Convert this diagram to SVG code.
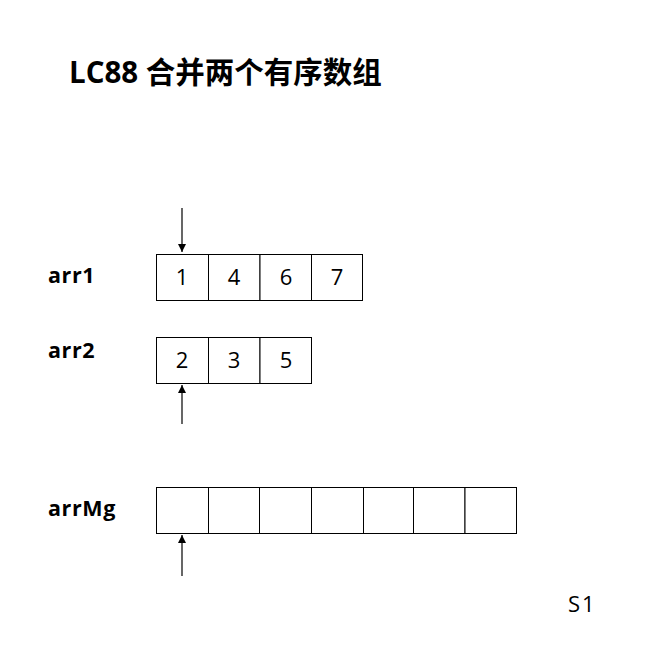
<svg xmlns="http://www.w3.org/2000/svg" width="664" height="651" viewBox="0 0 664 651">
<style>
.cell{fill:#fff;stroke:#000;stroke-width:1}
.lbl{font-family:"Open Sans","Noto Sans",sans-serif;font-weight:bold;font-size:21.5px;letter-spacing:0.6px;fill:#000}
.num{font-family:"Open Sans","Noto Sans",sans-serif;font-size:22px;fill:#000;text-anchor:middle}
.title{font-family:"Open Sans","Noto Sans CJK SC",sans-serif;font-weight:bold;font-size:29.5px;fill:#000}
.arr{stroke:#000;stroke-width:1.2;fill:none;marker-end:url(#ah)}
</style>
<defs>
<marker id="ah" viewBox="0 0 10 10" refX="10" refY="5" markerWidth="8" markerHeight="8" markerUnits="userSpaceOnUse" orient="auto">
<path d="M0,0 L10,5 L0,10 z" fill="#000"/>
</marker>
</defs>
<rect width="664" height="651" fill="#fff"/>
<text class="title" x="69" y="83">LC88 合并两个有序数组</text>
<g id="arr1">
<text class="lbl" x="48" y="283">arr1</text>
<rect class="cell" x="156.5" y="254.5" width="52" height="46"/>
<rect class="cell" x="208.5" y="254.5" width="51.5" height="46"/>
<rect class="cell" x="260" y="254.5" width="51.5" height="46"/>
<rect class="cell" x="311.5" y="254.5" width="51" height="46"/>
<text class="num" x="182" y="285">1</text>
<text class="num" x="234" y="285">4</text>
<text class="num" x="286" y="285">6</text>
<text class="num" x="337" y="285">7</text>
</g>
<g id="arr2">
<text class="lbl" x="48" y="358">arr2</text>
<rect class="cell" x="156.5" y="337.5" width="52" height="46"/>
<rect class="cell" x="208.5" y="337.5" width="51.5" height="46"/>
<rect class="cell" x="260" y="337.5" width="51.5" height="46"/>
<text class="num" x="182" y="368">2</text>
<text class="num" x="234" y="368">3</text>
<text class="num" x="286" y="368">5</text>
</g>
<g id="arrMg">
<text class="lbl" x="48" y="516">arrMg</text>
<rect class="cell" x="156.5" y="487.5" width="52" height="46"/>
<rect class="cell" x="208.5" y="487.5" width="51" height="46"/>
<rect class="cell" x="259.5" y="487.5" width="52" height="46"/>
<rect class="cell" x="311.5" y="487.5" width="52" height="46"/>
<rect class="cell" x="363.5" y="487.5" width="50" height="46"/>
<rect class="cell" x="413.5" y="487.5" width="51.5" height="46"/>
<rect class="cell" x="465" y="487.5" width="51.5" height="46"/>
</g>
<g id="connectors">
<line class="arr" x1="182" y1="208" x2="182" y2="252"/>
<line class="arr" x1="182" y1="424" x2="182" y2="385"/>
<line class="arr" x1="182" y1="576" x2="182" y2="535"/>
</g>
<text id="s1" x="568" y="612" style="font-family:'Open Sans','Noto Sans',sans-serif;font-size:22px;letter-spacing:2px;fill:#000">S1</text>
</svg>
